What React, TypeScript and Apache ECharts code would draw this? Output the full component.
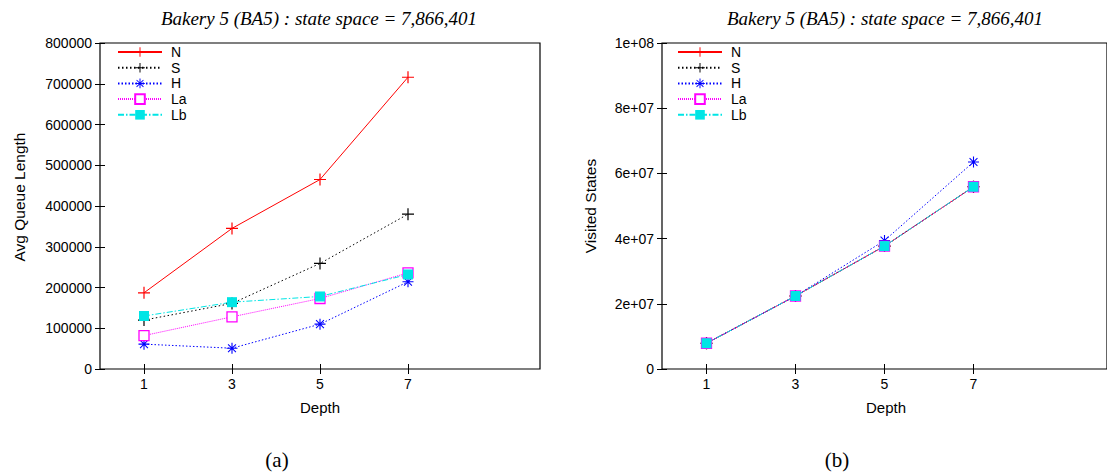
import React, { useEffect, useRef } from "react";
import * as echarts from "echarts";

const depths = [1, 3, 5, 7];
const seriesNames = ["N", "S", "H", "La", "Lb"];

// (a) Avg Queue Length
const queueN = [187000, 345000, 465000, 716000];
const queueS = [120000, 161000, 259000, 380000];
const queueH = [61000, 51000, 110000, 214000];
const queueLa = [82000, 128000, 173000, 236000];
const queueLb = [130000, 164000, 178000, 232000];

// (b) Visited States
const visitedN = [7900000, 22400000, 37700000, 55900000];
const visitedS = [7900000, 22400000, 37700000, 55900000];
const visitedH = [7900000, 22400000, 39400000, 63500000];
const visitedLa = [7900000, 22400000, 37700000, 55900000];
const visitedLb = [7900000, 22400000, 37700000, 55900000];

const titleText = "Bakery 5 (BA5) : state space = 7,866,401";

const PLUS = "path://M0,5.4H12V6.6H0Z M5.4,0H6.6V12H5.4Z";
const STAR =
  "path://M0,5.4H12V6.6H0Z M5.4,0H6.6V12H5.4Z M1.3,2.1L2.1,1.3L10.7,9.9L9.9,10.7Z M9.9,1.3L10.7,2.1L2.1,10.7L1.3,9.9Z";

const styles: any[] = [
  { color: "#ff0000", dash: "solid", symbol: PLUS, size: 12, hollow: false },
  { color: "#000000", dash: [1.5, 2.5], symbol: PLUS, size: 12, hollow: false },
  { color: "#0000ff", dash: [1.5, 2], symbol: STAR, size: 11, hollow: false },
  { color: "#ff00ff", dash: [1, 1], symbol: "rect", size: 10, hollow: true },
  { color: "#00e5e5", dash: [6, 2, 1.5, 2], symbol: "rect", size: 10, hollow: false },
];

const sans = "Liberation Sans, Arial, sans-serif";
const serif = "Liberation Serif, Times New Roman, serif";

function expFmt(v: number) {
  if (v === 0) return "0";
  const s = v.toExponential();
  const m = s.match(/^(.*)e([+-])(\d+)$/);
  if (!m) return s;
  const e = m[3].length < 2 ? "0" + m[3] : m[3];
  return m[1] + "e" + m[2] + e;
}

export default function App() {
  const ref = useRef<HTMLDivElement>(null);
  useEffect(() => {
    if (!ref.current) return;
    const chart = echarts.init(ref.current, undefined, { renderer: "svg" });

    const grids = [
      { left: 100, top: 43, width: 440, height: 326 },
      { left: 662, top: 43, width: 447, height: 326 },
    ];

    const xAxes: any[] = [];
    const yAxes: any[] = [];
    [0, 1].forEach((g) => {
      const tickCommon = { inside: true, length: 5, lineStyle: { color: "#000", width: 1 } };
      xAxes.push({
        type: "value",
        gridIndex: g,
        position: "bottom",
        min: 0,
        max: 10,
        axisLine: { show: false },
        splitLine: { show: false },
        axisTick: { ...tickCommon, customValues: depths },
        axisLabel: { customValues: depths, color: "#000", fontSize: 14, fontFamily: sans, margin: 8 },
      });
      xAxes.push({
        type: "value",
        gridIndex: g,
        position: "top",
        min: 0,
        max: 10,
        axisLine: { show: false },
        splitLine: { show: false },
        axisTick: { ...tickCommon, customValues: depths },
        axisLabel: { show: false },
      });
      const yMax = g === 0 ? 800000 : 100000000;
      const yInt = g === 0 ? 100000 : 20000000;
      yAxes.push({
        type: "value",
        gridIndex: g,
        position: "left",
        min: 0,
        max: yMax,
        interval: yInt,
        axisLine: { show: false },
        splitLine: { show: false },
        axisTick: tickCommon,
        axisLabel: {
          color: "#000",
          fontSize: 14,
          fontFamily: sans,
          margin: 8,
          formatter: g === 0 ? (v: number) => String(v) : (v: number) => expFmt(v),
        },
      });
      yAxes.push({
        type: "value",
        gridIndex: g,
        position: "right",
        min: 0,
        max: yMax,
        interval: yInt,
        axisLine: { show: false },
        splitLine: { show: false },
        axisTick: tickCommon,
        axisLabel: { show: false },
      });
    });

    const queueData = [queueN, queueS, queueH, queueLa, queueLb];
    const visitedData = [visitedN, visitedS, visitedH, visitedLa, visitedLb];

    const series: any[] = [];
    [queueData, visitedData].forEach((set, g) => {
      set.forEach((vals, i) => {
        const st = styles[i];
        series.push({
          type: "line",
          name: seriesNames[i],
          xAxisIndex: g * 2,
          yAxisIndex: g * 2,
          data: depths.map((d, k) => [d, vals[k]]),
          symbol: st.symbol,
          symbolSize: st.size,
          showSymbol: true,
          lineStyle: { color: st.color, width: 1, type: st.dash },
          itemStyle: st.hollow
            ? { color: "#ffffff", borderColor: st.color, borderWidth: 1.3 }
            : { color: st.color, borderWidth: 0 },
          emphasis: { disabled: true },
          z: 2 + i,
        });
      });
    });

    const legendCommon = {
      orient: "vertical",
      top: 45,
      padding: 0,
      itemWidth: 44,
      itemHeight: 12,
      itemGap: 1.7,
      data: seriesNames,
      selectedMode: false,
      textStyle: { fontSize: 14, fontFamily: sans, color: "#000", lineHeight: 14, padding: [0, 0, 0, 4] },
    };

    chart.setOption({
      animation: false,
      backgroundColor: "#ffffff",
      grid: grids.map((g) => ({ ...g, show: true, borderColor: "#000", borderWidth: 1.2, backgroundColor: "transparent" })),
      xAxis: xAxes,
      yAxis: yAxes,
      legend: [
        { ...legendCommon, left: 117 },
        { ...legendCommon, left: 677 },
      ],
      series,
      graphic: [
        { type: "text", x: 319, y: 18, style: { text: titleText, fill: "#000", font: `italic 19px ${serif}`, align: "center", verticalAlign: "middle" } },
        { type: "text", x: 885, y: 18, style: { text: titleText, fill: "#000", font: `italic 19px ${serif}`, align: "center", verticalAlign: "middle" } },
        { type: "text", x: 320, y: 407, style: { text: "Depth", fill: "#000", font: `15px ${sans}`, align: "center", verticalAlign: "middle" } },
        { type: "text", x: 886, y: 407, style: { text: "Depth", fill: "#000", font: `15px ${sans}`, align: "center", verticalAlign: "middle" } },
        { type: "text", x: 19, y: 197, rotation: Math.PI / 2, style: { text: "Avg Queue Length", fill: "#000", font: `15.5px ${sans}`, align: "center", verticalAlign: "middle" } },
        { type: "text", x: 590, y: 206, rotation: Math.PI / 2, style: { text: "Visited States", fill: "#000", font: `15.5px ${sans}`, align: "center", verticalAlign: "middle" } },
        { type: "text", x: 277, y: 460, style: { text: "(a)", fill: "#000", font: `21px ${serif}`, align: "center", verticalAlign: "middle" } },
        { type: "text", x: 837, y: 460, style: { text: "(b)", fill: "#000", font: `21px ${serif}`, align: "center", verticalAlign: "middle" } },
      ],
    });
    return () => chart.dispose();
  }, []);
  return (
    <div
      ref={ref}
      style={{ position: "fixed", left: 0, top: 0, width: 1107, height: 474, background: "#fff" }}
    />
  );
}
